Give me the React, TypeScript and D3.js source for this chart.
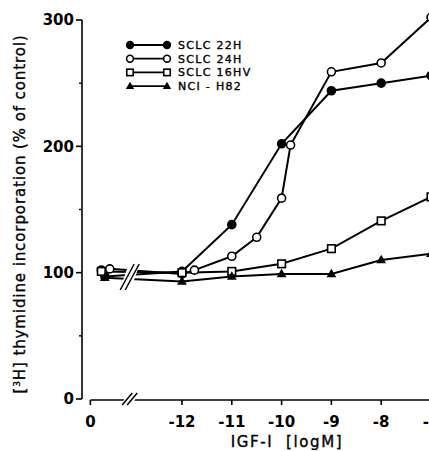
import React, { useEffect, useRef } from "react";
import * as d3 from "d3";

// log10 of IGF-I concentration; the first entries sit on the "0" (control) part of the broken axis
const dose22H = [-13.55, -12, -11, -10, -9, -8, -7];
const sclc22H = [97, 101, 138, 202, 244, 250, 256];

const dose24H = [-13.62, -13.45, -12, -11.75, -11, -10.5, -10, -9.82, -9, -8, -7];
const sclc24H = [102, 103, 99, 102, 113, 128, 159, 201, 259, 266, 302];

const dose16HV = [-13.62, -12, -11, -10, -9, -8, -7];
const sclc16HV = [101, 100, 101, 107, 119, 141, 160];

const doseH82 = [-13.55, -12, -11, -10, -9, -8, -7];
const nciH82 = [96, 93, 97, 99, 99, 110, 115];

const seriesNames = ["SCLC 22H", "SCLC 24H", "SCLC 16HV", "NCI - H82"];
const markerKinds = ["filledCircle", "openCircle", "openSquare", "filledTriangle"];

const yTickValues = [0, 100, 200, 300];
const yMinorValues = [50, 150, 250];
const xTickValues = [-13.84, -12, -11, -10, -9, -8, -7];
const xTickLabels = ["0", "-12", "-11", "-10", "-9", "-8", "-7"];
const breakAt = -13.05;

const App = () => {
  const chartRef = useRef(null);

  useEffect(() => {
    drawChart();
  }, []);

  const drawChart = () => {
    const width = 429;
    const height = 451;
    const font = "DejaVu Sans, sans-serif";

    const svg = d3.select(chartRef.current);
    svg.selectAll("*").remove();
    svg.attr("width", width).attr("height", height);

    svg.append("rect").attr("width", width).attr("height", height).attr("fill", "#fff");

    const x = d3.scaleLinear().domain([-12, -7]).range([182, 431]);
    const y = d3.scaleLinear().domain([0, 300]).range([399, 20]);

    const axisX = 82;
    const axisY = 400;

    // text with a slightly heavier-than-regular stroke, like the print
    const medium = (sel, size) =>
      sel
        .style("font-family", font)
        .style("font-size", size)
        .style("white-space", "pre")
        .attr("stroke", "#000")
        .attr("stroke-width", 0.35);

    // y axis
    svg
      .append("line")
      .attr("x1", axisX)
      .attr("x2", axisX)
      .attr("y1", y(0))
      .attr("y2", y(300))
      .attr("stroke", "#000")
      .attr("stroke-width", 1.6);

    svg
      .selectAll("line.ytick")
      .data(yTickValues)
      .enter()
      .append("line")
      .attr("class", "ytick")
      .attr("x1", axisX - 6)
      .attr("x2", axisX)
      .attr("y1", (d) => y(d))
      .attr("y2", (d) => y(d))
      .attr("stroke", "#000")
      .attr("stroke-width", 1.6);

    svg
      .selectAll("line.yminor")
      .data(yMinorValues)
      .enter()
      .append("line")
      .attr("class", "yminor")
      .attr("x1", axisX - 3)
      .attr("x2", axisX)
      .attr("y1", (d) => y(d))
      .attr("y2", (d) => y(d))
      .attr("stroke", "#000")
      .attr("stroke-width", 1.4);

    svg
      .selectAll("text.ylab")
      .data(yTickValues)
      .enter()
      .append("text")
      .attr("class", "ylab")
      .attr("x", axisX - 8)
      .attr("y", (d) => y(d))
      .attr("dy", "0.36em")
      .attr("text-anchor", "end")
      .style("font-family", font)
      .style("font-size", "15px")
      .style("font-weight", "bold")
      .text((d) => d);

    // x axis
    svg
      .append("line")
      .attr("x1", x(-13.84))
      .attr("x2", width)
      .attr("y1", axisY)
      .attr("y2", axisY)
      .attr("stroke", "#000")
      .attr("stroke-width", 1.6);

    svg
      .selectAll("line.xtick")
      .data(xTickValues)
      .enter()
      .append("line")
      .attr("class", "xtick")
      .attr("x1", (d) => x(d))
      .attr("x2", (d) => x(d))
      .attr("y1", axisY)
      .attr("y2", axisY + 5)
      .attr("stroke", "#000")
      .attr("stroke-width", 1.6);

    svg
      .selectAll("text.xlab")
      .data(xTickValues)
      .enter()
      .append("text")
      .attr("class", "xlab")
      .attr("x", (d) => x(d))
      .attr("y", 427)
      .attr("text-anchor", "middle")
      .style("font-family", font)
      .style("font-size", "15px")
      .style("font-weight", "bold")
      .text((d, i) => xTickLabels[i]);

    // axis break marks
    const drawBreak = (cx, cy, h, w) => {
      const g = svg.append("g");
      g.append("polygon")
        .attr(
          "points",
          `${cx - w - 3},${cy + h} ${cx - w + 8},${cy + h} ${cx + w + 3},${cy - h} ${cx + w - 8},${cy - h}`
        )
        .attr("fill", "#fff");
      [-2.5, 2.5].forEach((o) => {
        g.append("line")
          .attr("x1", cx - w + o)
          .attr("y1", cy + h)
          .attr("x2", cx + w + o)
          .attr("y2", cy - h)
          .attr("stroke", "#000")
          .attr("stroke-width", 1.5);
      });
    };

    // lines
    const series = [
      { xs: dose22H, ys: sclc22H },
      { xs: dose24H, ys: sclc24H },
      { xs: dose16HV, ys: sclc16HV },
      { xs: doseH82, ys: nciH82 },
    ];

    const line = d3
      .line()
      .x((d) => x(d[0]))
      .y((d) => y(d[1]));

    series.forEach((s) => {
      svg
        .append("path")
        .attr("d", line(s.xs.map((v, i) => [v, s.ys[i]])))
        .attr("fill", "none")
        .attr("stroke", "#000")
        .attr("stroke-width", 2);
    });

    drawBreak(x(breakAt), 277, 13, 7);
    drawBreak(x(breakAt), axisY - 1, 6, 5);

    const drawMarker = (g, kind, cx, cy, r = 4) => {
      if (kind === "filledCircle" || kind === "openCircle") {
        g.append("circle")
          .attr("cx", cx)
          .attr("cy", cy)
          .attr("r", r)
          .attr("fill", kind === "filledCircle" ? "#000" : "#fff")
          .attr("stroke", "#000")
          .attr("stroke-width", 1.6);
      } else if (kind === "openSquare") {
        g.append("rect")
          .attr("x", cx - r * 0.95)
          .attr("y", cy - r * 0.95)
          .attr("width", r * 1.9)
          .attr("height", r * 1.9)
          .attr("fill", "#fff")
          .attr("stroke", "#000")
          .attr("stroke-width", 1.6);
      } else {
        g.append("path")
          .attr("d", d3.symbol(d3.symbolTriangle, r * r * 2.6)())
          .attr("transform", `translate(${cx},${cy + 0.5})`)
          .attr("fill", "#000");
      }
    };

    series.forEach((s, k) => {
      const g = svg.append("g");
      s.xs.forEach((v, i) => drawMarker(g, markerKinds[k], x(v), y(s.ys[i])));
    });

    // legend
    const legend = svg.append("g");
    seriesNames.forEach((name, i) => {
      const ly = 45 + i * 13.7;
      legend
        .append("line")
        .attr("x1", 130)
        .attr("x2", 167)
        .attr("y1", ly)
        .attr("y2", ly)
        .attr("stroke", "#000")
        .attr("stroke-width", 1.8);
      drawMarker(legend, markerKinds[i], 130, ly, 3.4);
      drawMarker(legend, markerKinds[i], 167, ly, 3.4);
      medium(
        legend
          .append("text")
          .attr("x", 178)
          .attr("y", ly)
          .attr("dy", "0.36em")
          .style("letter-spacing", "1.3px"),
        "11px"
      ).text(name);
    });

    // axis titles
    medium(
      svg
        .append("text")
        .attr("x", 287)
        .attr("y", 447)
        .attr("text-anchor", "middle")
        .style("letter-spacing", "1.6px"),
      "15px"
    ).text("IGF-I  [logM]");

    const yTitle = medium(
      svg
        .append("text")
        .attr("transform", "translate(25,214) rotate(-90)")
        .attr("text-anchor", "middle")
        .style("letter-spacing", "0.9px"),
      "15px"
    );
    yTitle.append("tspan").text("[");
    yTitle.append("tspan").attr("dy", -5).style("font-size", "9px").text("3");
    yTitle.append("tspan").attr("dy", 5).text("H] thymidine incorporation (% of control)");
  };

  return (
    <svg
      ref={chartRef}
      style={{ position: "absolute", left: 0, top: 0, display: "block", overflow: "hidden" }}
    ></svg>
  );
};

export default App;
